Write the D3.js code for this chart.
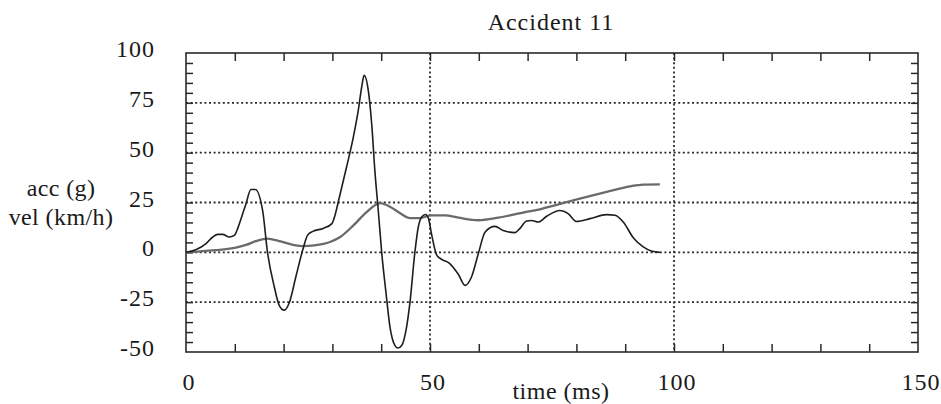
<!DOCTYPE html>
<html>
<head>
<meta charset="utf-8">
<script src="https://cdn.jsdelivr.net/npm/d3@7"></script>
<style>
  html, body { margin: 0; padding: 0; background: #fff; }
  svg { display: block; }
</style>
</head>
<body>
<svg id="chart" width="941" height="404"></svg>
<script>
// Crash pulse, accident 11: acceleration (g) and velocity change (km/h) vs time (ms)
const title = "Accident 11";
const xLabel = "time (ms)";
const yLabelLines = ["acc (g)", "vel (km/h)"];

const xTicks = [0, 50, 100, 150];
const yTicks = [-50, -25, 0, 25, 50, 75, 100];

const accTime = [0, 2, 4.1, 5.5, 6.5, 7.5, 8.9, 9.9, 10.6, 11.3, 12.3, 13.3, 14.2, 15.7, 16.7, 18.1, 19.1, 20.1, 21.2, 22.5, 23.9, 24.9, 26, 28.1, 29.9, 30.2, 31.6, 32.9, 34.3, 35.3, 36, 36.5, 37.4, 38.1, 38.7, 39.4, 40.1, 41, 41.8, 42.8, 43.4, 44.2, 45.2, 45.9, 46.9, 47.6, 48.3, 49.1, 49.7, 50.3, 51.4, 52.4, 54, 55.8, 57.2, 58.5, 59.9, 61.3, 63.3, 65, 67.4, 68.4, 69.8, 70.8, 72.2, 73.9, 76.6, 78.3, 80, 82.8, 86.2, 87.9, 89.6, 91.7, 93.7, 95.5, 97.1];
const accValue = [0, 1.3, 4.4, 7.7, 9, 9, 7.7, 8.5, 12, 17, 24.4, 31.5, 31.5, 21, 0, -17.4, -26.6, -29, -25, -12.4, 1, 8.5, 10.5, 12, 14.4, 16, 29.4, 42.8, 57.9, 71.2, 82.9, 88.8, 80.4, 62.9, 41, 21, 0, -20.7, -37.5, -46.7, -48, -46.7, -37.5, -25, 0, 12.7, 17.7, 19, 16.9, 9.4, -1.5, -3.5, -5.5, -11, -16.6, -12.4, -0.7, 10.2, 13, 11, 9.9, 11.9, 15.7, 16, 15.2, 18.1, 21, 19.4, 15.5, 16.9, 18.9, 18.6, 15.2, 7.2, 2.7, 0.5, 0];

const velTime = [0, 4.1, 10.2, 12.3, 14.3, 16.7, 19.1, 21.9, 23.9, 26.3, 29.5, 31.6, 34.3, 37, 39.8, 41.8, 43.9, 45.9, 47.9, 50.3, 53.1, 55.8, 59.9, 64, 69.5, 72.5, 75.6, 80.7, 86.2, 91, 93.7, 97.1];
const velValue = [0, 0.7, 2.4, 3.7, 5.6, 6.9, 5.6, 3.8, 3.1, 3.5, 5.2, 7.7, 13.5, 20.2, 24.7, 22.9, 19.6, 17.2, 17.2, 18.5, 18.5, 17.4, 16.1, 17.4, 20.2, 21.6, 23.6, 26.9, 30.3, 33.1, 34, 34.1];

const svg = d3.select("#chart");
const serif = "'Liberation Serif', serif";
const plot = { left: 186, right: 918, top: 53, bottom: 352 };

const x = d3.scaleLinear().domain([0, 150]).range([plot.left, plot.right]);
const y = d3.scaleLinear().domain([-50, 100]).range([plot.bottom, plot.top]);

const ink = "#2a2a2a";

// dotted grid lines
const grid = svg.append("g");
grid.selectAll("line.h").data(yTicks.filter(v => v > -50 && v < 100)).join("line")
  .attr("x1", plot.left).attr("x2", plot.right)
  .attr("y1", d => y(d)).attr("y2", d => y(d))
  .attr("stroke", ink).attr("stroke-width", 1.8).attr("stroke-dasharray", "2,2.6");
grid.selectAll("line.v").data(xTicks.filter(v => v > 0 && v < 150)).join("line")
  .attr("y1", plot.top).attr("y2", plot.bottom)
  .attr("x1", d => x(d)).attr("x2", d => x(d))
  .attr("stroke", ink).attr("stroke-width", 1.8).attr("stroke-dasharray", "2,2.6");

// inward tick marks on all four sides
const minorX = d3.range(10, 150, 10);
const minorY = d3.range(-45, 100, 5);
const axisBottom = d3.axisBottom(x).tickValues(minorX).tickSize(-8).tickFormat("");
const axisTop = d3.axisTop(x).tickValues(minorX).tickSize(-8).tickFormat("");
const axisLeft = d3.axisLeft(y).tickValues(minorY).tickSize(-7).tickFormat("");
const axisRight = d3.axisRight(y).tickValues(minorY).tickSize(-7).tickFormat("");

function styleAxis(g) {
  g.select(".domain").remove();
  g.selectAll(".tick line").attr("stroke", ink).attr("stroke-width", 1.5);
}
svg.append("g").attr("transform", `translate(0,${plot.bottom})`).call(axisBottom).call(styleAxis);
svg.append("g").attr("transform", `translate(0,${plot.top})`).call(axisTop).call(styleAxis);
svg.append("g").attr("transform", `translate(${plot.left},0)`).call(axisLeft).call(styleAxis);
svg.append("g").attr("transform", `translate(${plot.right},0)`).call(axisRight).call(styleAxis);

// frame
svg.append("rect")
  .attr("x", plot.left).attr("y", plot.top)
  .attr("width", plot.right - plot.left).attr("height", plot.bottom - plot.top)
  .attr("fill", "none").attr("stroke", ink).attr("stroke-width", 1.6);

// series
const line = d3.line()
  .x(d => x(d[0])).y(d => y(d[1]))
  .curve(d3.curveMonotoneX);

const velPts = velTime.map((t, i) => [t, velValue[i]]);
const accPts = accTime.map((t, i) => [t, accValue[i]]);

svg.append("path").datum(velPts).attr("d", line)
  .attr("fill", "none").attr("stroke", "#6a6a6a").attr("stroke-width", 2.3)
  .attr("stroke-linejoin", "round");
svg.append("path").datum(accPts).attr("d", line)
  .attr("fill", "none").attr("stroke", "#1e1e1e").attr("stroke-width", 1.6)
  .attr("stroke-linejoin", "round");

// text
function label(sel) {
  return sel.style("font-family", serif).style("font-size", "24px").attr("fill", "#1a1a1a");
}

svg.append("g").selectAll("text").data(yTicks).join("text")
  .call(label)
  .attr("x", 155).attr("y", d => y(d) + 4)
  .attr("text-anchor", "end")
  .style("letter-spacing", "1px")
  .text(d => d);
svg.append("g").selectAll("text").data(xTicks).join("text")
  .call(label)
  .attr("x", d => x(d) + 3).attr("y", 390)
  .attr("text-anchor", "middle")
  .style("letter-spacing", "1px")
  .text(d => d);

svg.append("text").call(label)
  .attr("x", 551).attr("y", 30)
  .attr("text-anchor", "middle")
  .style("letter-spacing", "1px")
  .text(title);
svg.append("text").call(label)
  .attr("x", 561).attr("y", 399)
  .attr("text-anchor", "middle")
  .style("letter-spacing", "0.5px")
  .text(xLabel);
svg.append("g").selectAll("text").data(yLabelLines).join("text")
  .call(label)
  .attr("x", 61).attr("y", (d, i) => 196 + i * 29)
  .attr("text-anchor", "middle")
  .style("letter-spacing", "0.4px")
  .text(d => d);
</script>
</body>
</html>
